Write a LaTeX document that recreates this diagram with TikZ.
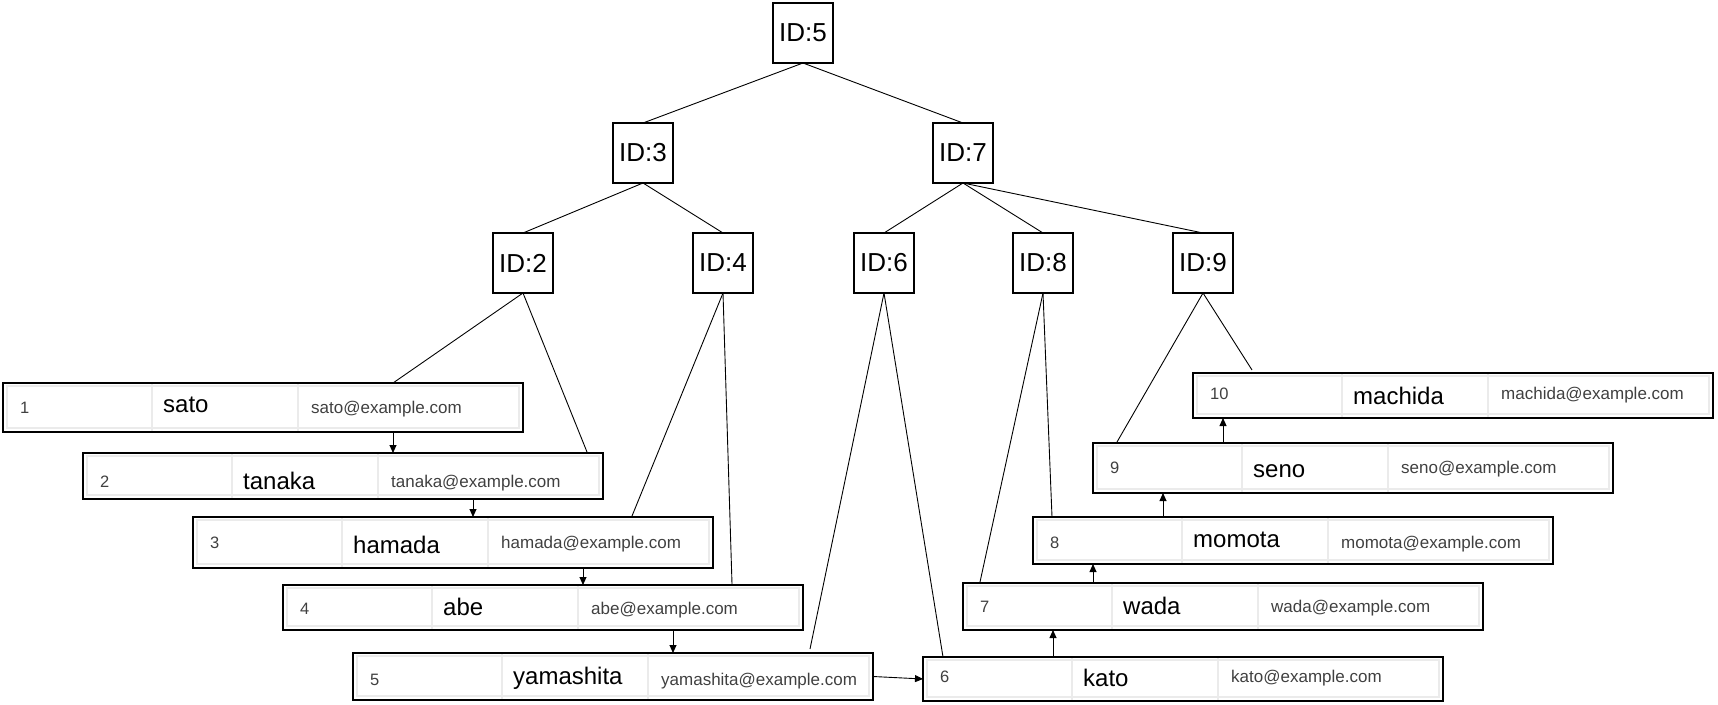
\documentclass[tikz,border=0pt]{standalone}
\usepackage{fontspec}
\setmainfont{Liberation Sans}
\usetikzlibrary{arrows.meta,calc}
\definecolor{cellgray}{HTML}{EBEBEB}
\definecolor{textgray}{HTML}{404040}

\tikzset{
  idbox/.style={draw, line width=1.1pt, minimum width=60pt, minimum height=60pt,
    inner sep=0pt, outer sep=0pt, font=\fontsize{26}{30}\selectfont},
  tbl/.style={draw, line width=1.2pt, minimum width=520pt, inner sep=0pt,
    outer sep=0pt, anchor=north west},
  cellline/.style={draw=cellgray, line width=1.1pt},
  idtext/.style={anchor=base west, inner sep=0pt, text=textgray,
    font=\fontsize{16.5}{19}\selectfont},
  nametext/.style={anchor=base west, inner sep=0pt, text=black,
    font=\fontsize{24}{28}\selectfont},
  mailtext/.style={anchor=base west, inner sep=0pt, text=textgray,
    font=\fontsize{17}{20}\selectfont},
  edge/.style={line width=0.9pt},
  link/.style={line width=0.9pt, -{Triangle[length=8pt,width=7pt]}},
}

% #1 node name, #2 left, #3 top, #4 height, #5 id, #6 user name, #7 e-mail,
% #8 baseline of the user name, #9 baseline of id and e-mail
\newcommand\usertable[9]{%
  \node[tbl, minimum height=#4pt] (#1) at (#2,#3) {};
  \draw[cellline] ($(#1.north west)+(4,3)$) rectangle ($(#1.south east)+(-4,-4)$);
  \draw[cellline] ($(#1.north west)+(149,1)$) -- ($(#1.south west)+(149,-1)$);
  \draw[cellline] ($(#1.north west)+(295,1)$) -- ($(#1.south west)+(295,-1)$);
  \node[idtext] (#1-id) at ($(#1.north west)+(17,#9)$) {#5};
  \node[nametext] (#1-nm) at ($(#1.north west)+(160,#8)$) {#6};
  \node[mailtext] (#1-em) at ($(#1.north west)+(308,#9)$) {#7};
}

\begin{document}
\begin{tikzpicture}[x=1pt, y=-1pt]
\useasboundingbox (0,0) rectangle (1718,704);

% index tree
\node[idbox] (id5) at (803,33) {ID:5};
\node[idbox] (id3) at (643,153) {ID:3};
\node[idbox] (id7) at (963,153) {ID:7};
\node[idbox] (id2) at (523,263) {ID:2};
\node[idbox] (id4) at (723,263) {ID:4};
\node[idbox] (id6) at (884,263) {ID:6};
\node[idbox] (id8) at (1043,263) {ID:8};
\node[idbox] (id9) at (1203,263) {ID:9};

% leaf rows
\usertable{t1}{3}{383}{49}{1}{sato}{sato@example.com}{29}{30}
\usertable{t2}{83}{453}{46}{2}{tanaka}{tanaka@example.com}{36}{34}
\usertable{t3}{193}{517}{51}{3}{hamada}{hamada@example.com}{36}{31}
\usertable{t4}{283}{585}{45}{4}{abe}{abe@example.com}{30}{29}
\usertable{t5}{353}{653}{47}{5}{yamashita}{yamashita@example.com}{31}{32}
\usertable{t6}{923}{657}{44}{6}{kato}{kato@example.com}{29}{25}
\usertable{t7}{963}{583}{47}{7}{wada}{wada@example.com}{31}{29}
\usertable{t8}{1033}{517}{47}{8}{momota}{momota@example.com}{30}{31}
\usertable{t9}{1093}{443}{50}{9}{seno}{seno@example.com}{34}{30}
\usertable{t10}{1193}{373}{45}{10}{machida}{machida@example.com}{31}{26}

% tree edges
\draw[edge] (id5.south) -- (id3.north);
\draw[edge] (id5.south) -- (id7.north);
\draw[edge] (id3.south) -- (id2.north);
\draw[edge] (id3.south) -- (id4.north);
\draw[edge] (id7.south) -- (id6.north);
\draw[edge] (id7.south) -- (id8.north);
\draw[edge] (id7.south) -- (id9.north);

% edges from index nodes to rows
\draw[edge] (id2.south) -- ($(t1.north west)+(390,0)$);
\draw[edge] (id2.south) -- ($(t2.north west)+(504,-1)$);
\draw[edge] (id4.south) -- ($(t3.north west)+(439,-1)$);
\draw[edge] (id4.south) -- ($(t4.north west)+(449,-1)$);
\draw[edge] (id6.south) -- ($(t5.north west)+(457,-4)$);
\draw[edge] (id6.south) -- ($(t6.north west)+(20,0)$);
\draw[edge] (id8.south) -- ($(t7.north west)+(17,-1)$);
\draw[edge] (id8.south) -- ($(t8.north west)+(19,0)$);
\draw[edge] (id9.south) -- ($(t9.north west)+(24,-1)$);
\draw[edge] (id9.south) -- ($(t10.north west)+(59,-3)$);

% links between rows
\coordinate (a12) at ($(t1.south west)+(390,0)$);
\coordinate (a23) at ($(t2.south west)+(390,0)$);
\coordinate (a34) at ($(t3.south west)+(390,0)$);
\coordinate (a45) at ($(t4.south west)+(390,0)$);
\draw[link] (a12) -- (a12 |- t2.north);
\draw[link] (a23) -- (a23 |- t3.north);
\draw[link] (a34) -- (a34 |- t4.north);
\draw[link] (a45) -- (a45 |- t5.north);
\draw[link] (t5.east) -- (t6.west);
\coordinate (a67) at ($(t6.north west)+(130,0)$);
\coordinate (a78) at ($(t7.north west)+(130,0)$);
\coordinate (a89) at ($(t8.north west)+(130,0)$);
\coordinate (a910) at ($(t9.north west)+(130,0)$);
\draw[link] (a67) -- (a67 |- t7.south);
\draw[link] (a78) -- (a78 |- t8.south);
\draw[link] (a89) -- (a89 |- t9.south);
\draw[link] (a910) -- (a910 |- t10.south);
\end{tikzpicture}
\end{document}
